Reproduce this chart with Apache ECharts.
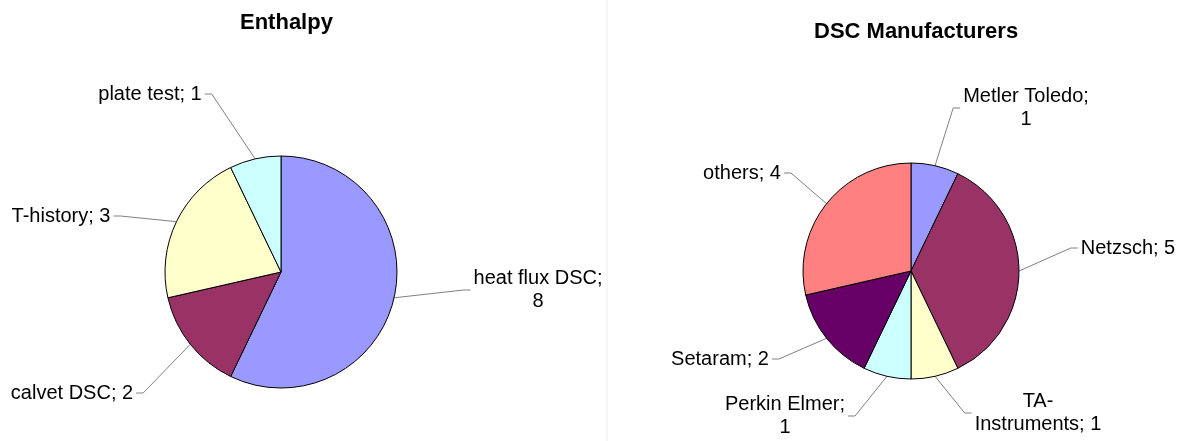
<!DOCTYPE html>
<html>
<head>
<meta charset="utf-8">
<title>Enthalpy / DSC Manufacturers</title>
<script src="https://cdn.jsdelivr.net/npm/echarts@6/dist/echarts.min.js"></script>
<style>
  html, body { margin: 0; padding: 0; background: #fff; }
  #main { width: 1185px; height: 441px; }
</style>
</head>
<body>
<div id="main"></div>
<script>
// --- data ---
var enthalpyNames = ['heat flux DSC', 'calvet DSC', 'T-history', 'plate test'];
var enthalpyValues = [8, 2, 3, 1];

var dscNames = ['Metler Toledo', 'Netzsch', 'TA-Instruments', 'Perkin Elmer', 'Setaram', 'others'];
var dscValues = [1, 5, 1, 1, 2, 4];

// where the label text wraps in the picture: 'value' = value on 2nd line, 'hyphen' = break after "-"
var enthalpyWrap = ['value', null, null, null];
var dscWrap = ['value', null, 'hyphen', 'value', null, null];

// --- look ---
var enthalpyColors = ['#9999FF', '#993366', '#FFFFCC', '#CCFFFF'];
var dscColors = ['#9999FF', '#993366', '#FFFFCC', '#CCFFFF', '#660066', '#FF8080'];
var FONT = '"Liberation Sans", Arial, sans-serif';

// label box centres (px), same order as the data
var enthalpyLabelPos = [[538, 290], [72, 393], [61, 216], [150, 94]];
var dscLabelPos = [[1026, 108], [1128, 248], [1038, 413], [785, 416], [720, 359], [742, 173]];

function toData(names, values) {
  return names.map(function (n, i) { return { name: n, value: values[i] }; });
}

function labelText(wrap) {
  return function (p) {
    var w = wrap[p.dataIndex];
    if (w === 'value') return p.name + ';\n' + p.value;
    if (w === 'hyphen') return p.name.replace('-', '-\n') + '; ' + p.value;
    return p.name + '; ' + p.value;
  };
}

// move label to its spot, leader line: slice midpoint -> elbow -> short flat bit
function placeLabels(pos) {
  return function (params) {
    var p = pos[params.dataIndex];
    var w = params.labelRect.width;
    var anchor = params.labelLinePoints[0];
    var side = p[0] > anchor[0] ? -1 : 1;
    var endX = p[0] + side * (w / 2 + 3);
    var elbowX = endX + side * 7;
    return {
      x: p[0],
      y: p[1],
      align: 'center',
      verticalAlign: 'middle',
      labelLinePoints: [anchor, [elbowX, p[1]], [endX, p[1]]]
    };
  };
}

function pieSeries(names, values, colors, wrap, pos, center, radius) {
  return {
    type: 'pie',
    center: center,
    radius: radius,
    startAngle: 90,
    clockwise: true,
    color: colors,
    avoidLabelOverlap: false,
    emphasis: { disabled: true },
    itemStyle: { borderColor: '#000', borderWidth: 1 },
    label: {
      show: true,
      position: 'outside',
      color: '#000',
      fontFamily: FONT,
      fontSize: 20,
      lineHeight: 23,
      overflow: 'none',
      formatter: labelText(wrap)
    },
    labelLine: {
      show: true,
      smooth: false,
      lineStyle: { color: '#808080', width: 1 }
    },
    labelLayout: placeLabels(pos),
    data: toData(names, values)
  };
}

var chart = echarts.init(document.getElementById('main'));
chart.setOption({
  backgroundColor: '#fff',
  animation: false,
  title: [
    {
      text: 'Enthalpy',
      left: 235,
      top: 7,
      textStyle: { fontFamily: FONT, fontSize: 22, fontWeight: 'bold', color: '#000' }
    },
    {
      text: 'DSC Manufacturers',
      left: 809,
      top: 16,
      textStyle: { fontFamily: FONT, fontSize: 22, fontWeight: 'bold', color: '#000' }
    }
  ],
  graphic: [
    {
      type: 'line',
      shape: { x1: 607, y1: 0, x2: 607, y2: 441 },
      style: { stroke: '#eeeeee', lineWidth: 1 },
      silent: true
    }
  ],
  series: [
    pieSeries(enthalpyNames, enthalpyValues, enthalpyColors, enthalpyWrap, enthalpyLabelPos, [281, 272], 116),
    pieSeries(dscNames, dscValues, dscColors, dscWrap, dscLabelPos, [911, 271], 108)
  ]
});
</script>
</body>
</html>
